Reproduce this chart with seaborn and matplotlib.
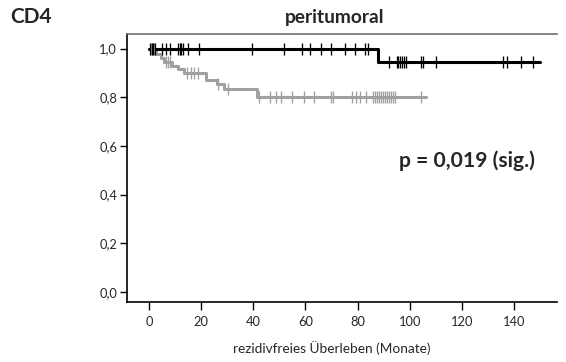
import numpy as np
import pandas as pd
import matplotlib
matplotlib.use("Agg")
import matplotlib.pyplot as plt
import seaborn as sns

# ---- data ----
# black group (high CD4): event times / survival after event
black_event_t = [87.9]
black_event_s = [0.943]
black_end = 149.8
black_censor = [0.6, 1.1, 1.6, 2.3, 5.1, 6.4, 7.9, 11.2, 11.9, 12.5, 13.1, 15.1,
                19.2, 39.6, 51.7, 58.7, 61.7, 65.9, 70.0, 75.1, 79.1, 82.9, 83.9,
                92.0, 95.0, 95.7, 96.4, 97.1, 97.9, 98.6, 104.5, 105.3, 110.2,
                135.6, 137.2, 142.7, 147.4]

# gray group (low CD4)
gray_event_t = [2.6, 4.5, 5.9, 8.8, 11.0, 13.5, 22.0, 26.0, 28.8, 41.5]
gray_event_s = [0.976, 0.962, 0.946, 0.93, 0.915, 0.90, 0.870, 0.853, 0.836, 0.80]
gray_end = 106.3
gray_censor = [0.8, 1.4, 2.0, 6.6, 7.4, 8.2, 14.8, 16.1, 17.4, 18.7, 26.5, 30.4,
               42.2, 46.4, 48.8, 50.5, 55.0, 59.5, 63.5, 70.0, 70.6, 78.0, 79.5,
               81.0, 83.3, 86.0, 86.8, 87.5, 88.3, 89.0, 89.8, 90.5, 91.3, 92.0,
               92.8, 93.5, 94.2, 104.2]

x_ticks = [0, 20, 40, 60, 80, 100, 120, 140]
y_ticks = [0.0, 0.2, 0.4, 0.6, 0.8, 1.0]
y_tick_labels = ["0,0", "0,2", "0,4", "0,6", "0,8", "1,0"]

title_left = "CD4"
title = "peritumoral"
p_text = "p = 0,019 (sig.)"
x_label = "rezidivfreies Überleben (Monate)"

BLACK = "#000000"
GRAY = "#a0a0a0"

sns.set_theme(style="white")
plt.rcParams["font.family"] = ["Lato", "DejaVu Sans"]

fig = plt.figure(figsize=(5.66, 3.62), dpi=100)
ax = fig.add_axes([127 / 566, 1 - 302 / 362, (557 - 127) / 566, (302 - 34) / 362])


def step_df(ev_t, ev_s, end):
    t = [0.0] + list(ev_t) + [end]
    s = [1.0] + list(ev_s) + [ev_s[-1]]
    return pd.DataFrame({"t": t, "s": s})


def censor_df(ev_t, ev_s, cens):
    ev_t = np.asarray(ev_t)
    lv = np.concatenate([[1.0], ev_s])
    idx = np.searchsorted(ev_t, np.asarray(cens), side="right")
    return pd.DataFrame({"t": cens, "s": lv[idx]})


for ev_t, ev_s, end, cens, col in [
    (gray_event_t, gray_event_s, gray_end, gray_censor, GRAY),
    (black_event_t, black_event_s, black_end, black_censor, BLACK),
]:
    d = step_df(ev_t, ev_s, end)
    sns.lineplot(data=d, x="t", y="s", ax=ax, color=col, lw=2.2,
                 drawstyle="steps-post", estimator=None, sort=False)
    c = censor_df(ev_t, ev_s, cens)
    sns.scatterplot(data=c, x="t", y="s", ax=ax, color=col, marker="|",
                    s=75, linewidth=0.95, zorder=3)

ax.set_xlim(-8.4, 156.5)
ax.set_ylim(-0.041, 1.06)
ax.set_xticks(x_ticks)
ax.set_xticklabels([str(v) for v in x_ticks], fontsize=9.3)
ax.set_yticks(y_ticks)
ax.set_yticklabels(y_tick_labels, fontsize=9.3)
ax.tick_params(axis="x", which="major", direction="out", length=6, width=1,
               color="black", pad=4, bottom=True)
ax.tick_params(axis="y", which="major", direction="out", length=5, width=1,
               color="black", pad=2, left=True)

for side in ["left", "bottom"]:
    ax.spines[side].set_color("black")
    ax.spines[side].set_linewidth(1.2)
ax.spines["top"].set_color("#707070")
ax.spines["top"].set_linewidth(1.2)
ax.spines["right"].set_visible(False)

ax.set_xlabel("")
ax.set_ylabel("")
fig.text(332 / 566, 1 - 348 / 362, x_label, fontsize=9.8, va="center",
         ha="center")

fig.text(10 / 566, 1 - 17 / 362, title_left, fontsize=15, fontweight="bold",
         va="center", ha="left")
fig.text(335 / 566, 1 - 17 / 362, title, fontsize=13.8, fontweight="bold",
         va="center", ha="center")
fig.text(535 / 566, 1 - 161 / 362, p_text, fontsize=15.2, fontweight="bold",
         va="center", ha="right")

fig.savefig("out.png", dpi=100)
